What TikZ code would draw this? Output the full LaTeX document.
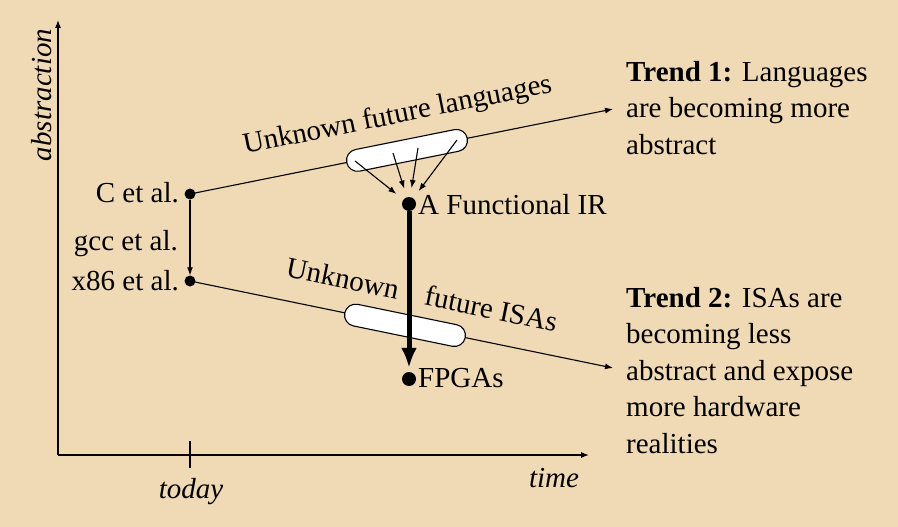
\documentclass[tikz,border=0pt]{standalone}
\usepackage{fontspec}
\setmainfont{Liberation Serif}
\usetikzlibrary{arrows.meta}
\definecolor{paper}{RGB}{240,217,181}
\begin{document}
\begin{tikzpicture}[x=1pt,y=-1pt,
  thinarrow/.style={line width=1.1pt,-{Latex[length=8pt,width=6pt]}},
  dot/.style={circle,fill=black,inner sep=0pt,minimum size=11pt},
  bigdot/.style={circle,fill=black,inner sep=0pt,minimum size=14pt},
  capsule/.style={draw,fill=white,line width=1.1pt,rounded corners=11pt,
    minimum width=123pt,minimum height=22pt,inner sep=0pt},
  lbl/.style={inner sep=0pt,font=\fontsize{29}{36.5}\selectfont},
  ital/.style={lbl,font=\fontsize{29}{36.5}\selectfont\itshape}]

% background
\fill[paper] (0,0) rectangle (898,527);
\useasboundingbox (0,0) rectangle (898,527);

% axes
\coordinate (origin) at (58,455);
\coordinate (ytip) at (58,20);
\coordinate (xtip) at (589,455);
\draw[thinarrow] (origin) -- (ytip);
\draw[thinarrow] (origin) -- (xtip);
\coordinate (tickTop) at (190,441);
\coordinate (tickBot) at (190,468);
\draw[line width=1.1pt] (tickTop) -- (tickBot);
\node[ital,anchor=base] (today) at (191,498) {today};
\node[ital,anchor=base] (time) at (554,487) {time};
\node[ital,anchor=base,rotate=90] (abs) at (52,95) {abstraction};

% today's points
\node[dot] (c) at (190,194) {};
\node[dot] (x86) at (190,281) {};
\node[bigdot] (ir) at (409,204) {};
\node[bigdot] (fpga) at (409,379) {};

% trend lines
\coordinate (t1) at (613,109);
\coordinate (t2) at (613,368);
\draw[thinarrow] (c.center) -- (t1);
\draw[thinarrow] (x86.center) -- (t2);
\draw[thinarrow] (c) -- (x86);

% unknown futures
\node[capsule,rotate=11.36] (langs) at (407,150.4) {};
\node[capsule,rotate=-11.62] (isas) at (405,325.3) {};

% lowering to the IR and to FPGAs
\draw[line width=5pt,-{Latex[length=20pt,width=16pt]},shorten >=4pt] (ir) -- (fpga);
\coordinate (s1) at (355,161);
\coordinate (s2) at (393,153);
\coordinate (s3) at (418,148);
\coordinate (s4) at (457,140);
\foreach \s in {s1,s2,s3,s4}
  \draw[thinarrow,shorten >=9pt] (\s) -- (ir);

% labels
\node[lbl,anchor=base east] (cl) at (179,202) {C et al.};
\node[lbl,anchor=base east] (gl) at (178,250) {gcc et al.};
\node[lbl,anchor=base east] (xl) at (179,290) {x86 et al.};
\node[lbl,anchor=base west] (irl) at (418,214) {A Functional IR};
\node[lbl,anchor=base west] (fl) at (418,387) {FPGAs};
\node[lbl,anchor=base,rotate=11.36] (ufl) at (399,123) {Unknown future languages};
\node[lbl,anchor=base,rotate=-11.62] (ufi) at (420,304) {Unknown\hspace{27pt}future ISAs};

% trends
\node[lbl,align=left,anchor=north west] (tr1) at (626,61)
  {\textbf{Trend 1:} Languages\\are becoming more\\abstract};
\node[lbl,align=left,anchor=north west] (tr2) at (626,287)
  {\textbf{Trend 2:} ISAs are\\becoming less\\abstract and expose\\more hardware\\realities};
\end{tikzpicture}
\end{document}
